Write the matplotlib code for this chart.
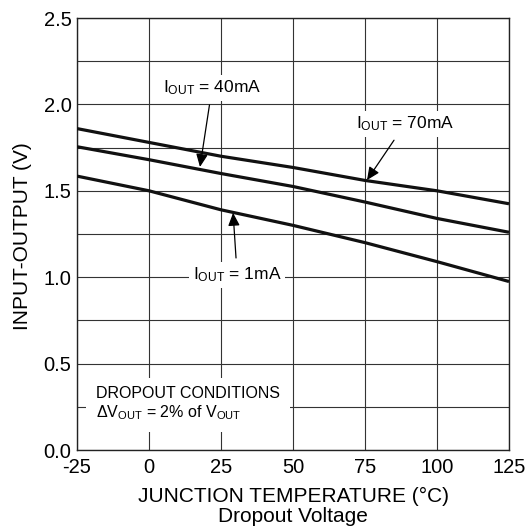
import matplotlib.pyplot as plt
import numpy as np

plt.rcParams['font.family'] = ['Liberation Sans', 'DejaVu Sans']
plt.rcParams['mathtext.fontset'] = 'custom'
plt.rcParams['mathtext.rm'] = 'Liberation Sans'
plt.rcParams['mathtext.it'] = 'Liberation Sans:italic'

# Data
temp = [-25, 0, 25, 50, 75, 100, 125]
v_70ma = [1.86, 1.78, 1.70, 1.635, 1.56, 1.50, 1.425]
v_40ma = [1.755, 1.68, 1.60, 1.525, 1.435, 1.34, 1.26]
v_1ma = [1.585, 1.50, 1.39, 1.30, 1.20, 1.09, 0.975]

x_ticks = [-25, 0, 25, 50, 75, 100, 125]
y_ticks = [0.0, 0.5, 1.0, 1.5, 2.0, 2.5]
y_labels = ["0.0", "0.5", "1.0", "1.5", "2.0", "2.5"]

W, H = 527, 531
fig = plt.figure(figsize=(W / 100, H / 100), dpi=100)
ax = fig.add_axes([77 / W, 1 - 450 / H, (509 - 77) / W, (450 - 18) / H])

for v in (v_70ma, v_40ma, v_1ma):
    ax.plot(temp, v, color="#111111", lw=2.3, solid_capstyle="butt", zorder=3)

ax.set_xlim(-25, 125)
ax.set_ylim(0, 2.5)
ax.set_xticks(x_ticks)
ax.set_xticklabels([str(t) for t in x_ticks])
ax.set_yticks(y_ticks)
ax.set_yticklabels(y_labels)
ax.set_yticks(np.arange(0.25, 2.5, 0.5), minor=True)
ax.grid(which="both", color="#333333", lw=0.8, zorder=1)
ax.tick_params(which="both", length=0)
ax.tick_params(axis="y", labelsize=14.5, pad=4)
ax.tick_params(axis="x", labelsize=14.5, pad=6)
for s in ax.spines.values():
    s.set_color("#222222")
    s.set_linewidth(1.0)

box = dict(boxstyle="square,pad=0.2", fc="white", ec="none")
arrow = dict(arrowstyle="-|>,head_length=0.55,head_width=0.25",
             mutation_scale=14, color="black", lw=0.9, shrinkA=3, shrinkB=0)

ax.annotate("I$_{\\rm OUT}$ = 40mA", xy=(17.7, 1.638), xytext=(21.9, 2.095),
            ha="center", va="center", fontsize=12.5, bbox=box,
            arrowprops=arrow, zorder=5)
ax.annotate("I$_{\\rm OUT}$ = 70mA", xy=(75.7, 1.562), xytext=(88.9, 1.887),
            ha="center", va="center", fontsize=12.5, bbox=box,
            arrowprops=arrow, zorder=5)
ax.annotate("I$_{\\rm OUT}$ = 1mA", xy=(29.2, 1.372), xytext=(30.6, 1.013),
            ha="center", va="center", fontsize=12.5, bbox=box,
            arrowprops=arrow, zorder=5)

ax.text(-18.4, 0.266, "DROPOUT CONDITIONS\n\u0394V$_{\\rm OUT}$ = 2% of V$_{\\rm OUT}$",
        ha="left", va="center", fontsize=11.5, linespacing=1.15,
        bbox=dict(boxstyle="square,pad=0.6", fc="white", ec="none"), zorder=5)

fig.text(23 / W, 1 - 236 / H, "INPUT-OUTPUT (V)", rotation=90,
         ha="center", va="center", fontsize=15)
fig.text(293 / W, 1 - 502 / H, "JUNCTION TEMPERATURE (\u00b0C)",
         ha="center", va="baseline", fontsize=15)
fig.text(293 / W, 1 - 522 / H, "Dropout Voltage",
         ha="center", va="baseline", fontsize=15)

fig.savefig("out.png", dpi=100)
